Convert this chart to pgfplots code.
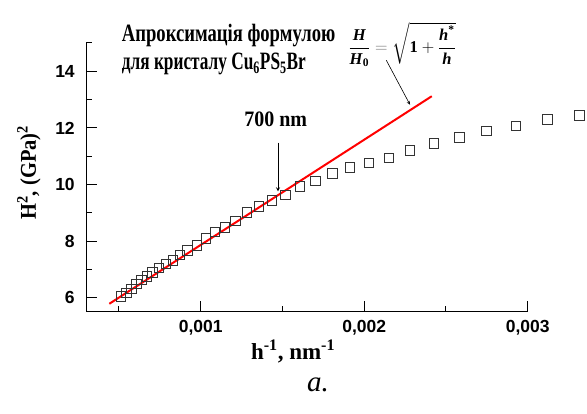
\documentclass[border=0pt]{standalone}
\usepackage{pgfplots}
\pgfplotsset{compat=1.18}
\usepackage{amsmath}
\usepackage{fontspec}
\setmainfont{Liberation Serif}
\newfontfamily\arial{Liberation Sans}
\newcommand{\bi}[1]{\textbf{\textit{#1}}}
\begin{document}
\begin{tikzpicture}
\path[use as bounding box] (0,0) rectangle (587pt,414pt);
\begin{axis}[
  at={(86.25pt,102pt)}, anchor=south west,
  scale only axis, width=441.5pt, height=269pt,
  xmin=0.0003, xmax=0.003, ymin=5.5, ymax=15,
  axis x line*=bottom, axis y line*=left,
  axis line style={-, line width=1pt, black},
  every tick/.style={line width=1pt, black},
  tick align=inside,
  major tick length=11pt, minor tick length=6pt,
  scaled x ticks=false,
  xtick={0.001,0.002,0.003},
  xticklabels={{0,001},{0,002},{0,003}},
  minor xtick={0.0005,0.0015,0.0025},
  ytick={6,8,10,12,14},
  yticklabels={6,8,10,12,14},
  minor ytick={7,9,11,13,15},
  tick label style={font=\arial\bfseries\fontsize{17.5}{17.5}\selectfont},
  xticklabel style={yshift=-5pt},
  yticklabel style={xshift=-8pt},
  clip=false,
]
\addplot[only marks, mark=square, mark size=4.8pt, draw=black!80, line width=0.9pt] coordinates {
(0.000513,6.04)
(0.000547,6.17)
(0.000578,6.31)
(0.000606,6.49)
(0.000639,6.63)
(0.000670,6.76)
(0.000704,6.90)
(0.000745,7.06)
(0.000788,7.19)
(0.000831,7.33)
(0.000874,7.51)
(0.000918,7.68)
(0.000976,7.86)
(0.001031,8.10)
(0.001087,8.32)
(0.001147,8.48)
(0.001212,8.72)
(0.001283,9.01)
(0.001357,9.23)
(0.001436,9.44)
(0.001517,9.64)
(0.001607,9.94)
(0.001701,10.13)
(0.001805,10.40)
(0.001913,10.61)
(0.002028,10.77)
(0.002150,10.94)
(0.002280,11.21)
(0.002427,11.46)
(0.002582,11.66)
(0.002747,11.90)
(0.002927,12.07)
(0.003120,12.30)
(0.003316,12.45)
};
\addplot[red, line width=2pt] coordinates {(0.000441,5.79) (0.002413,13.12)};
\coordinate (t1) at (axis cs:0.000517,15.06);
\coordinate (t2) at (axis cs:0.000517,14.06);
\coordinate (fm) at (axis cs:0.002232,14.95);
\coordinate (fa) at (axis cs:0.002135,14.39);
\coordinate (fb) at (axis cs:0.00228,12.82);
\coordinate (nm) at (axis cs:0.001459,12.04);
\coordinate (na) at (axis cs:0.001473,11.48);
\coordinate (nb) at (axis cs:0.001473,9.76);
\coordinate (xl) at (axis cs:0.001565,4.10);
\coordinate (yl) at (axis cs:-0.00005,10.42);
\coordinate (al) at (axis cs:0.001717,2.93);
\end{axis}
\node[anchor=base west, inner sep=0pt, font=\bfseries\fontsize{19.2}{19.2}\selectfont] at (t1) {\scalebox{0.97}[1.3]{Апроксимація формулою}};
\node[anchor=base west, inner sep=0pt, font=\bfseries\fontsize{19.2}{19.2}\selectfont] at (t2) {\scalebox{0.9}[1.3]{для кристалу Cu\textsubscript{6}PS\textsubscript{5}Br}};
\node[inner sep=0pt, font=\fontsize{16.5}{16.5}\selectfont] at (fm) {$\displaystyle\frac{\bi{H}}{\bi{H}_{\textbf{0}}}\mathrel{\textcolor{black!55}{=}}\sqrt{\textbf{1}+\frac{\bi{h}^{\textbf{*}}}{\bi{h}}}$};
\draw[-stealth, line width=0.6pt] (fa) -- (fb);
\node[anchor=base, inner sep=0pt, font=\bfseries\fontsize{20}{20}\selectfont] at (nm) {\scalebox{1}[1.1]{700 nm}};
\draw[-stealth, line width=0.8pt] (na) -- (nb);
\node[inner sep=0pt, font=\bfseries\fontsize{23}{23}\selectfont] at (xl) {h\textsuperscript{-1}, nm\textsuperscript{-1}};
\node[inner sep=0pt, rotate=90, font=\bfseries\fontsize{20.5}{20.5}\selectfont] at (yl) {\scalebox{1}[1.1]{H\textsuperscript{2}, (GPa)\textsuperscript{2}}};
\node[inner sep=0pt, font=\itshape\fontsize{29}{29}\selectfont] at (al) {a.};
\end{tikzpicture}
\end{document}
